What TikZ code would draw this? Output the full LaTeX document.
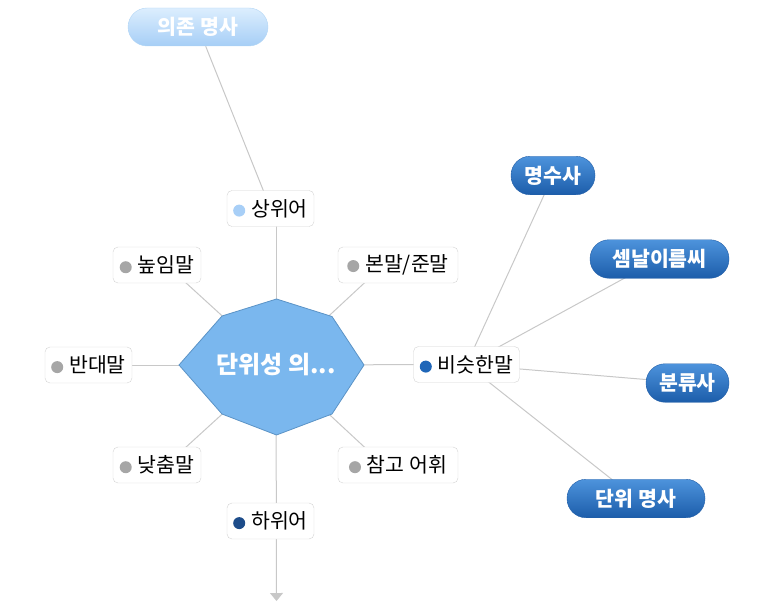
\documentclass[tikz,border=0pt]{standalone}
\usepackage{fontspec}
\setmainfont{Noto Sans CJK KR}
\usetikzlibrary{arrows.meta,backgrounds}
\definecolor{linegray}{HTML}{C8C8C8}
\definecolor{boxborder}{HTML}{D4D4D4}
\definecolor{dotgray}{HTML}{A6A6A6}
\definecolor{dotlight}{HTML}{A8CFF7}
\definecolor{dotblue}{HTML}{1F66B8}
\definecolor{dotnavy}{HTML}{1D4C8A}
\definecolor{octfill}{HTML}{7AB7EE}
\definecolor{octdraw}{HTML}{5B93C6}
\definecolor{pilltop}{HTML}{4D93DC}
\definecolor{pillbot}{HTML}{1C5DAA}
\definecolor{pilldraw}{HTML}{2460A8}
\definecolor{lighttop}{HTML}{DCEEFE}
\definecolor{lightbot}{HTML}{A6CEF6}
\definecolor{lightdraw}{HTML}{B3D6F5}
\newcommand{\leafdot}[1]{\tikz[baseline=-0.5ex]\fill[#1] (0,0) circle (6pt);\hspace{6pt}}
\tikzset{
  conn/.style={draw=linegray, line width=1pt},
  leaf/.style={draw=boxborder, fill=white, rounded corners=5pt, minimum height=36pt,
    inner xsep=4pt, inner ysep=0pt, font=\fontsize{20.5}{24}\selectfont, text=black},
  bluepill/.style={draw=pilldraw, top color=pilltop, bottom color=pillbot, rounded corners=19pt,
    minimum height=38.5pt, inner sep=0pt, text=white, font=\fontsize{20.5}{24}\selectfont\bfseries},
  lightpill/.style={draw=lightdraw, top color=lighttop, bottom color=lightbot, rounded corners=19pt,
    minimum height=38pt, inner sep=0pt, text=white, font=\fontsize{20.5}{24}\selectfont\bfseries},
  coretext/.style={text=white, font=\fontsize{24}{28}\selectfont\bfseries, inner sep=0pt}
}
\begin{document}
\begin{tikzpicture}[x=1pt,y=-1pt]
\useasboundingbox (0,0) rectangle (778,602);
% octagon
\fill[octfill, draw=octdraw, line width=0.8pt]
  (276.5,299) -- (332,316.5) -- (364,365) -- (332,414) -- (276.5,435) -- (222,414) -- (179,365) -- (222,316) -- cycle;
\node[coretext] (core) at (276,365) {단위성 의...};
% leaf boxes
\node[leaf, minimum width=87pt] (sang) at (270.5,208.5) {\leafdot{dotlight}상위어};
\node[leaf, minimum width=88pt] (nop) at (157,265) {\leafdot{dotgray}높임말};
\node[leaf, minimum width=120pt] (bon) at (398,265) {\leafdot{dotgray}본말/준말};
\node[leaf, minimum width=87pt] (ban) at (88.5,365) {\leafdot{dotgray}반대말};
\node[leaf, minimum width=106pt] (bis) at (466.5,364.5) {\leafdot{dotblue}비슷한말};
\node[leaf, minimum width=88pt] (nat) at (157,465) {\leafdot{dotgray}낮춤말};
\node[leaf, minimum width=120pt] (cham) at (398,465) {\leafdot{dotgray}참고 어휘};
\node[leaf, minimum width=87pt] (ha) at (270.5,521) {\leafdot{dotnavy}하위어};
% pills
\node[lightpill, minimum width=140pt] (uijon) at (198,27) {의존 명사};
\node[bluepill, minimum width=84pt] (myeong) at (553,175.5) {명수사};
\node[bluepill, minimum width=139pt] (semnal) at (659.5,259) {셈날이름씨};
\node[bluepill, minimum width=83pt] (bunryu) at (687.5,383) {분류사};
\node[bluepill, minimum width=138pt] (danwi) at (636,498.5) {단위 명사};
\coordinate (arrowend) at (276.5,601);
\begin{scope}[on background layer]
  \draw[conn] (uijon) -- (sang.center);
  \draw[conn] (core.center) -- (core.center |- sang.center);
  \draw[conn] (core.center) -- ([xshift=5pt,yshift=4pt]nop.center);
  \draw[conn] (core.center) -- ([xshift=-10pt,yshift=4pt]bon.center);
  \draw[conn] (core.center) -- (ban.center);
  \draw[conn] (core.center) -- (bis.center);
  \draw[conn] (core.center) -- ([xshift=5pt,yshift=-4pt]nat.center);
  \draw[conn] (core.center) -- ([xshift=-10pt,yshift=-4pt]cham.center);
  \draw[conn, -{Triangle[width=13pt,length=8pt]}] (core.center) -- (arrowend);
  \draw[conn] (bis.center) -- (myeong.center);
  \draw[conn] (bis.center) -- (semnal.center);
  \draw[conn] (bis.center) -- (bunryu.center);
  \draw[conn] (bis.center) -- (danwi.center);
\end{scope}
\end{tikzpicture}
\end{document}
